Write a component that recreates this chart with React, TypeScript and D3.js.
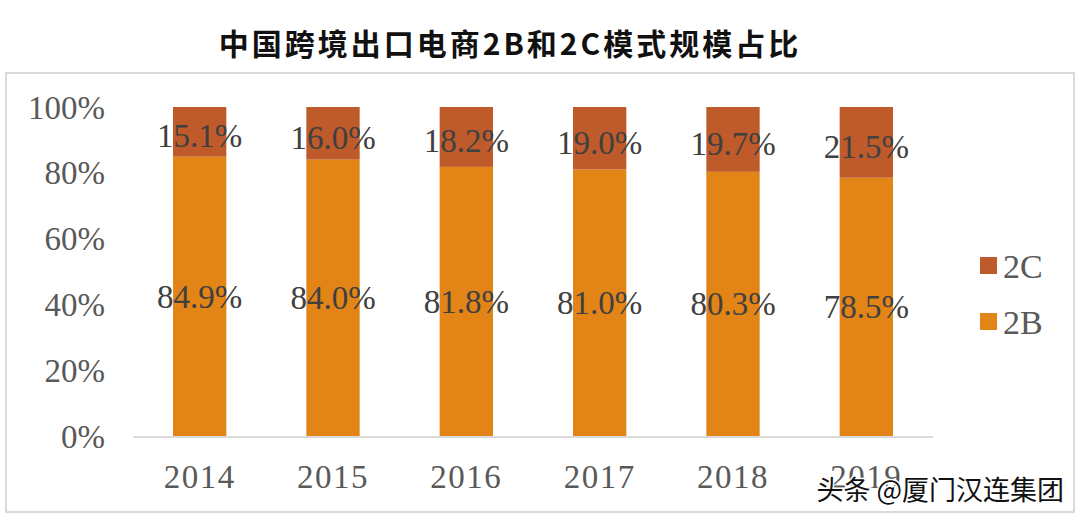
import { useEffect, useRef } from "react";
import * as d3 from "d3";

const years = ["2014", "2015", "2016", "2017", "2018", "2019"];
const share2B = [84.9, 84.0, 81.8, 81.0, 80.3, 78.5];
const share2C = [15.1, 16.0, 18.2, 19.0, 19.7, 21.5];
const yTicks = [0, 20, 40, 60, 80, 100];
const seriesNames = ["2C", "2B"];

const colors: Record<string, string> = { "2B": "#E38417", "2C": "#BF5A2A" };
const serif = "'Liberation Serif', 'Times New Roman', serif";

export default function App() {
  const svgRef = useRef<SVGSVGElement>(null);

  useEffect(() => {
    document.body.style.margin = "0";
    if (!svgRef.current) return;
    const svg = d3.select(svgRef.current);
    svg.selectAll("*").remove();

    const width = 1080;
    const height = 520;
    const plot = { left: 133, right: 933, top: 107, bottom: 436 };

    svg.append("rect").attr("width", width).attr("height", height).attr("fill", "#fff");

    // frame
    svg
      .append("rect")
      .attr("x", 6)
      .attr("y", 73)
      .attr("width", 1068)
      .attr("height", 439)
      .attr("fill", "none")
      .attr("stroke", "#d9d9d9")
      .attr("stroke-width", 2);

    // title
    svg
      .append("text")
      .attr("x", 510)
      .attr("y", 55)
      .attr("text-anchor", "middle")
      .attr("font-family", "'Noto Sans CJK SC', sans-serif")
      .attr("font-weight", "bold")
      .attr("font-size", 30)
      .attr("letter-spacing", 3)
      .attr("fill", "#111")
      .text("中国跨境出口电商2B和2C模式规模占比");

    const x = d3.scaleBand().domain(years).range([plot.left, plot.right]).paddingInner(0.6).paddingOuter(0.3);
    const y = d3.scaleLinear().domain([0, 100]).range([plot.bottom, plot.top]);

    // y labels
    svg
      .append("g")
      .selectAll("text")
      .data(yTicks)
      .join("text")
      .attr("x", 105)
      .attr("y", (d) => y(d))
      .attr("dy", "0.35em")
      .attr("text-anchor", "end")
      .attr("font-family", serif)
      .attr("font-size", 33)
      .attr("fill", "#595959")
      .text((d) => `${d}%`);

    // bars
    const data = years.map((yr, i) => ({ yr, b: share2B[i], c: share2C[i] }));
    const g = svg.append("g");
    data.forEach((d) => {
      const bx = x(d.yr)!;
      const bw = x.bandwidth();
      g.append("rect")
        .attr("x", bx)
        .attr("y", y(d.b))
        .attr("width", bw)
        .attr("height", y(0) - y(d.b))
        .attr("fill", colors["2B"]);
      g.append("rect")
        .attr("x", bx)
        .attr("y", y(d.b + d.c))
        .attr("width", bw)
        .attr("height", y(d.b) - y(d.b + d.c))
        .attr("fill", colors["2C"]);

      const lbl = (val: number, mid: number) =>
        g
          .append("text")
          .attr("x", bx + bw / 2)
          .attr("y", y(mid))
          .attr("dy", "0.35em")
          .attr("text-anchor", "middle")
          .attr("font-family", serif)
          .attr("font-size", 33)
          .attr("fill", "#404040")
          .text(`${val.toFixed(1)}%`);
      lbl(d.b, d.b / 2);
      lbl(d.c, d.b + d.c / 2 - 1.2);
    });

    // baseline
    svg
      .append("line")
      .attr("x1", plot.left)
      .attr("x2", plot.right)
      .attr("y1", y(0) + 1)
      .attr("y2", y(0) + 1)
      .attr("stroke", "#d9d9d9")
      .attr("stroke-width", 2);

    // x labels
    svg
      .append("g")
      .selectAll("text")
      .data(years)
      .join("text")
      .attr("x", (d) => x(d)! + x.bandwidth() / 2)
      .attr("y", 488)
      .attr("text-anchor", "middle")
      .attr("font-family", serif)
      .attr("font-size", 33)
      .attr("letter-spacing", 1.5)
      .attr("fill", "#595959")
      .text((d) => d);

    // legend
    const legend = svg.append("g").attr("transform", "translate(980, 257)");
    seriesNames.forEach((name, i) => {
      const item = legend.append("g").attr("transform", `translate(0, ${i * 56})`);
      item.append("rect").attr("width", 17).attr("height", 17).attr("fill", colors[name]);
      item
        .append("text")
        .attr("x", 23)
        .attr("y", 9)
        .attr("dy", "0.35em")
        .attr("font-family", serif)
        .attr("font-size", 34)
        .attr("fill", "#595959")
        .text(name);
    });

    // watermark
    svg
      .append("text")
      .attr("x", 1064)
      .attr("y", 500)
      .attr("text-anchor", "end")
      .attr("font-family", "'Noto Sans CJK SC', sans-serif")
      .attr("font-size", 27)
      .attr("fill", "#111")
      .attr("stroke", "#fff")
      .attr("stroke-width", 3)
      .attr("paint-order", "stroke")
      .text("头条 @厦门汉连集团");
  }, []);

  return <svg ref={svgRef} width={1080} height={520} style={{ display: "block" }} />;
}
